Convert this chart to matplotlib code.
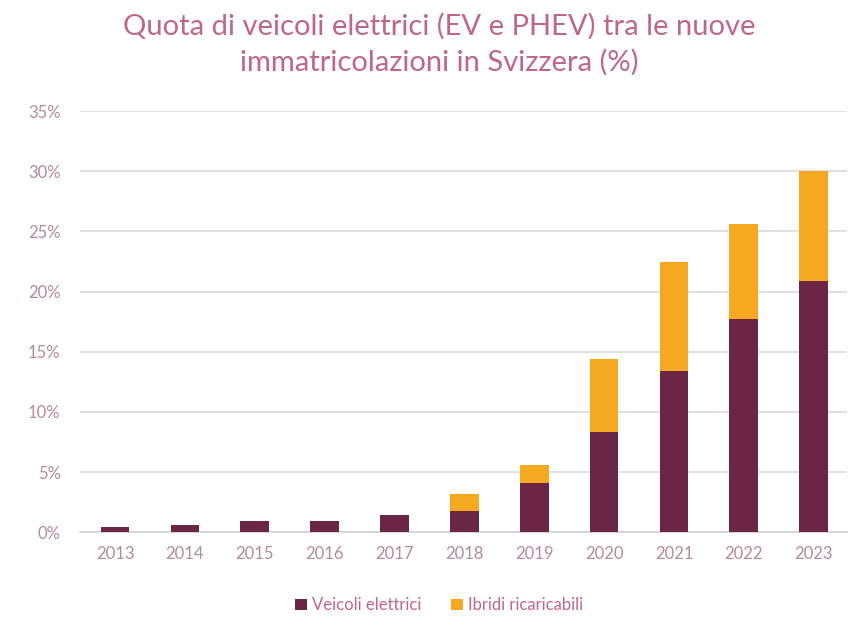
import matplotlib
matplotlib.use("Agg")
import matplotlib.pyplot as plt
from matplotlib.ticker import FuncFormatter

# dati
anni = ["2013", "2014", "2015", "2016", "2017", "2018", "2019", "2020", "2021", "2022", "2023"]
veicoli_elettrici = [0.4, 0.6, 0.9, 0.9, 1.4, 1.75, 4.1, 8.3, 13.4, 17.7, 20.9]
ibridi_ricaricabili = [0.0, 0.0, 0.0, 0.0, 0.0, 1.45, 1.5, 6.1, 9.1, 7.9, 9.1]

col_ev = "#6b2545"
col_phev = "#f5a921"
col_testo = "#c0668a"
col_tick = "#b58a9c"

plt.rcParams["font.family"] = ["Lato", "DejaVu Sans"]

fig = plt.figure(figsize=(8.61, 6.21), dpi=100)
ax = fig.add_axes([0.093, 0.143, 0.891, 0.678])

x = range(len(anni))
ax.bar(x, veicoli_elettrici, width=0.41, color=col_ev, label="Veicoli elettrici", zorder=3)
ax.bar(x, ibridi_ricaricabili, width=0.41, bottom=veicoli_elettrici, color=col_phev,
       label="Ibridi ricaricabili", zorder=3)

ax.set_xlim(-0.5, 10.48)
ax.set_ylim(0, 35)
ax.set_yticks(range(0, 36, 5))
ax.yaxis.set_major_formatter(FuncFormatter(lambda v, p: f"{int(v)}%"))
ax.set_xticks(list(x))
ax.set_xticklabels(anni)

ax.grid(axis="y", color="#dcdcdc", linewidth=1.2, zorder=0)
for s in ["top", "right", "left"]:
    ax.spines[s].set_visible(False)
ax.spines["bottom"].set_color("#d0d0d0")
ax.spines["bottom"].set_linewidth(1.2)
ax.tick_params(axis="both", length=0, labelsize=12, labelcolor=col_tick)
ax.tick_params(axis="y", pad=14)
ax.tick_params(axis="x", pad=10)

fig.suptitle("Quota di veicoli elettrici (EV e PHEV) tra le nuove\nimmatricolazioni in Svizzera (%)",
             x=0.51, y=0.98, fontsize=21, color=col_testo, linespacing=1.45)

fig.legend(loc="center", bbox_to_anchor=(0.51, 0.025), ncol=2, frameon=False,
           fontsize=12, labelcolor=col_testo, handlelength=0.7, handleheight=0.7,
           handletextpad=0.3, columnspacing=1.8)

fig.savefig("out.png", dpi=100)
